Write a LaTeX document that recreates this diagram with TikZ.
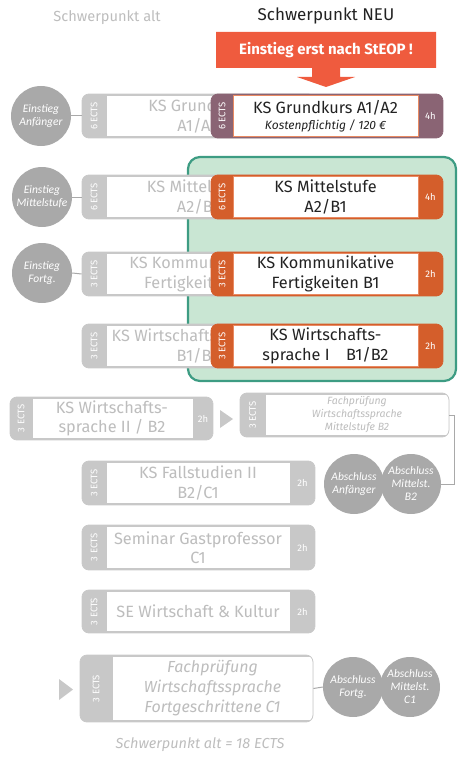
\documentclass[tikz,border=0pt]{standalone}
\usepackage{fontspec}
\setmainfont{Fira Sans}
\newfontfamily\circfont{Carlito}
\definecolor{gstrip}{HTML}{C8C8C8}
\definecolor{gtext}{HTML}{BDBDBD}
\definecolor{circ}{HTML}{A9A9A9}
\definecolor{mauve}{HTML}{8A6474}
\definecolor{ostrip}{HTML}{D45E2B}
\definecolor{oline}{HTML}{E98A62}
\definecolor{arrowc}{HTML}{EF5B3E}
\definecolor{gfill}{HTML}{C9E6D3}
\definecolor{gborder}{HTML}{3D9C83}
\definecolor{ink}{HTML}{222222}
\newcommand\cbox[9]{% name, x1, x2, ytop, ybot, lw, rw, strip colour, inner line colour
  \begin{scope}
    \clip[rounded corners=7pt] (#2,#4) rectangle (#3,#5);
    \fill[#8] (#2,#4) rectangle (#3,#5);
    \filldraw[fill=white, draw=#9, line width=0.8pt] ({#2+#6},{#4+1.3}) rectangle ({#3-#7},{#5-1.3});
  \end{scope}
  \node[boxframe, draw=#8, minimum width={#3-#2}, minimum height={#5-#4}] (#1) at ({(#2+#3)/2},{(#4+#5)/2}) {};
}
\tikzset{
  boxframe/.style={rounded corners=7pt, line width=0.8pt, inner sep=0pt},
  maintext/.style={align=center, font=\fontsize{16.3}{19.5}\selectfont, inner sep=0pt},
  oldtext/.style={maintext, text=gtext},
  newtext/.style={maintext, text=ink},
  striptext/.style={text=white, font=\fontsize{9.5}{11}\selectfont, inner sep=0pt},
  ectstext/.style={striptext, rotate=90},
  circnode/.style={circle, fill=circ, minimum size=60pt, inner sep=0pt, align=center, text=white,
    font=\circfont\itshape\fontsize{11.5}{13}\selectfont},
  conn/.style={draw=circ, line width=1pt},
}
\begin{document}
\begin{tikzpicture}[x=1pt,y=-1pt]
\useasboundingbox (0,0) rectangle (459,757);

% headings
\node[text=gtext, font=\fontsize{14.6}{16}\selectfont] (halt) at (107,18) {Schwerpunkt alt};
\node[text=ink, font=\fontsize{17}{19}\selectfont] (hneu) at (326,16) {Schwerpunkt NEU};

% arrow
\fill[arrowc] (216,32) -- (436,32) -- (436,68) -- (340,68) -- (340,77) -- (355,77) -- (326,87)
  -- (297,77) -- (312,77) -- (312,68) -- (216,68) -- cycle;
\node[text=white, font=\bfseries\fontsize{15}{17}\selectfont] (steop) at (326,50) {Einstieg erst nach StEOP !};

% green area
\draw[fill=gfill, draw=gborder, line width=2.2pt, rounded corners=12pt] (188,157) rectangle (456,381);

% old boxes
\cbox{o1}{82}{315}{94}{138}{24}{25}{gstrip}{gstrip}
\node[oldtext] (o1-t) at (198,116) {KS Grundkurs\\A1/A2};
\cbox{o2}{82}{315}{175}{219}{24}{25}{gstrip}{gstrip}
\node[oldtext] (o2-t) at (198,197) {KS Mittelstufe\\A2/B1};
\cbox{o3}{82}{315}{252}{296}{24}{25}{gstrip}{gstrip}
\node[oldtext] (o3-t) at (198,274) {KS Kommunikative\\Fertigkeiten B1};
\cbox{o4}{82}{315}{324}{368}{24}{25}{gstrip}{gstrip}
\node[oldtext] (o4-t) at (198,346) {KS Wirtschaftssprache I\\B1/B2};
\node[ectstext] (o1-e) at (94,116) {6 ECTS};
\node[ectstext] (o2-e) at (94,197) {6 ECTS};
\node[ectstext] (o3-e) at (94,274) {3 ECTS};
\node[ectstext] (o4-e) at (94,346) {3 ECTS};

% entry circles
\node[circnode] (c1) at (41,116) {Einstieg\\Anfänger};
\node[circnode] (c2) at (42,197) {Einstieg\\Mittelstufe};
\node[circnode] (c3) at (42,273) {Einstieg\\Fortg.};
\draw[conn] (c1.east) -- (o1.west);
\draw[conn] (c2.east) -- (o2.west);
\draw[conn] (c3.east) -- (o3.west);

% new boxes
\cbox{n1}{211}{443}{94}{138}{22}{25}{mauve}{oline}
\node[newtext] (n1-t) at (325.5,116) {KS Grundkurs A1/A2\\[-3pt]{\itshape\fontsize{12}{13}\selectfont Kostenpflichtig / 120 €}};
\node[ectstext] (n1-e) at (222,116) {6 ECTS};
\node[striptext] (n1-h) at (430.5,116) {4h};

\cbox{n2}{211}{443}{175}{219}{22}{25}{ostrip}{oline}
\node[newtext] (n2-t) at (325.5,197) {KS Mittelstufe\\A2/B1};
\node[ectstext] (n2-e) at (222,197) {6 ECTS};
\node[striptext] (n2-h) at (430.5,197) {4h};

\cbox{n3}{211}{443}{252}{296}{22}{25}{ostrip}{oline}
\node[newtext] (n3-t) at (325.5,274) {KS Kommunikative\\Fertigkeiten B1};
\node[ectstext] (n3-e) at (222,274) {3 ECTS};
\node[striptext] (n3-h) at (430.5,274) {2h};

\cbox{n4}{211}{443}{324}{368}{22}{25}{ostrip}{oline}
\node[newtext] (n4-t) at (325.5,346) {KS Wirtschafts-\\sprache I\quad B1/B2};
\node[ectstext] (n4-e) at (222,346) {3 ECTS};
\node[striptext] (n4-h) at (430.5,346) {2h};

% row 5
\cbox{b5}{10}{213}{397}{440}{22}{20}{gstrip}{gstrip}
\node[oldtext] (b5-t) at (112,418.5) {KS Wirtschafts-\\sprache II / B2};
\node[ectstext] (b5-e) at (21,418.5) {3 ECTS};
\node[striptext] (b5-h) at (203,418.5) {2h};
\fill[gstrip] (220,410) -- (233,419) -- (220,428) -- cycle;

\cbox{fm}{240}{449}{393}{437}{25}{0}{gstrip}{gstrip}
\node[text=gtext, align=center, inner sep=0pt, font=\itshape\fontsize{10.5}{13}\selectfont] (fm-t) at (357,415) {Fachprüfung\\Wirtschaftssprache\\Mittelstufe B2};
\node[ectstext] (fm-e) at (252.5,415) {3 ECTS};

% row 6-8
\cbox{b6}{82}{315}{461}{505}{24}{25}{gstrip}{gstrip}
\node[oldtext] (b6-t) at (198,483) {KS Fallstudien II\\B2/C1};
\node[ectstext] (b6-e) at (94,483) {3 ECTS};
\node[striptext] (b6-h) at (302.5,483) {2h};

\cbox{b7}{82}{315}{525}{570}{24}{25}{gstrip}{gstrip}
\node[oldtext] (b7-t) at (198,547.5) {Seminar Gastprofessor\\C1};
\node[ectstext] (b7-e) at (94,547.5) {3 ECTS};
\node[striptext] (b7-h) at (302.5,547.5) {2h};

\cbox{b8}{82}{315}{590}{633}{24}{25}{gstrip}{gstrip}
\node[oldtext] (b8-t) at (198,611.5) {SE Wirtschaft \& Kultur};
\node[ectstext] (b8-e) at (94,611.5) {3 ECTS};
\node[striptext] (b8-h) at (302.5,611.5) {2h};

% row 9
\fill[gstrip] (59,679) -- (73,689.5) -- (59,700) -- cycle;
\cbox{f9}{80}{313}{655}{722}{32}{0}{gstrip}{gstrip}
\node[oldtext, font=\itshape\fontsize{16}{20}\selectfont] (f9-t) at (212.5,688.5) {Fachprüfung\\Wirtschaftssprache\\Fortgeschrittene C1};
\node[ectstext] (f9-e) at (96,688.5) {3 ECTS};

% exit circles
\node[circnode] (c4) at (354,484) {Abschluss\\Anfänger};
\node[circnode] (c5) at (411,484) {Abschluss\\Mittelst.\\B2};
\draw[conn] (fm.east) -- ++(5,0) |- (c5.east);

\node[circnode] (c6) at (353,687) {Abschluss\\Fortg.};
\node[circnode] (c7) at (410,687) {Abschluss\\Mittelst.\\C1};
\draw[conn] (f9.east) -- (c6.west);

\node[text=gtext, font=\itshape\fontsize{14.5}{16}\selectfont] (sum) at (200,745) {Schwerpunkt alt = 18 ECTS};
\end{tikzpicture}
\end{document}
